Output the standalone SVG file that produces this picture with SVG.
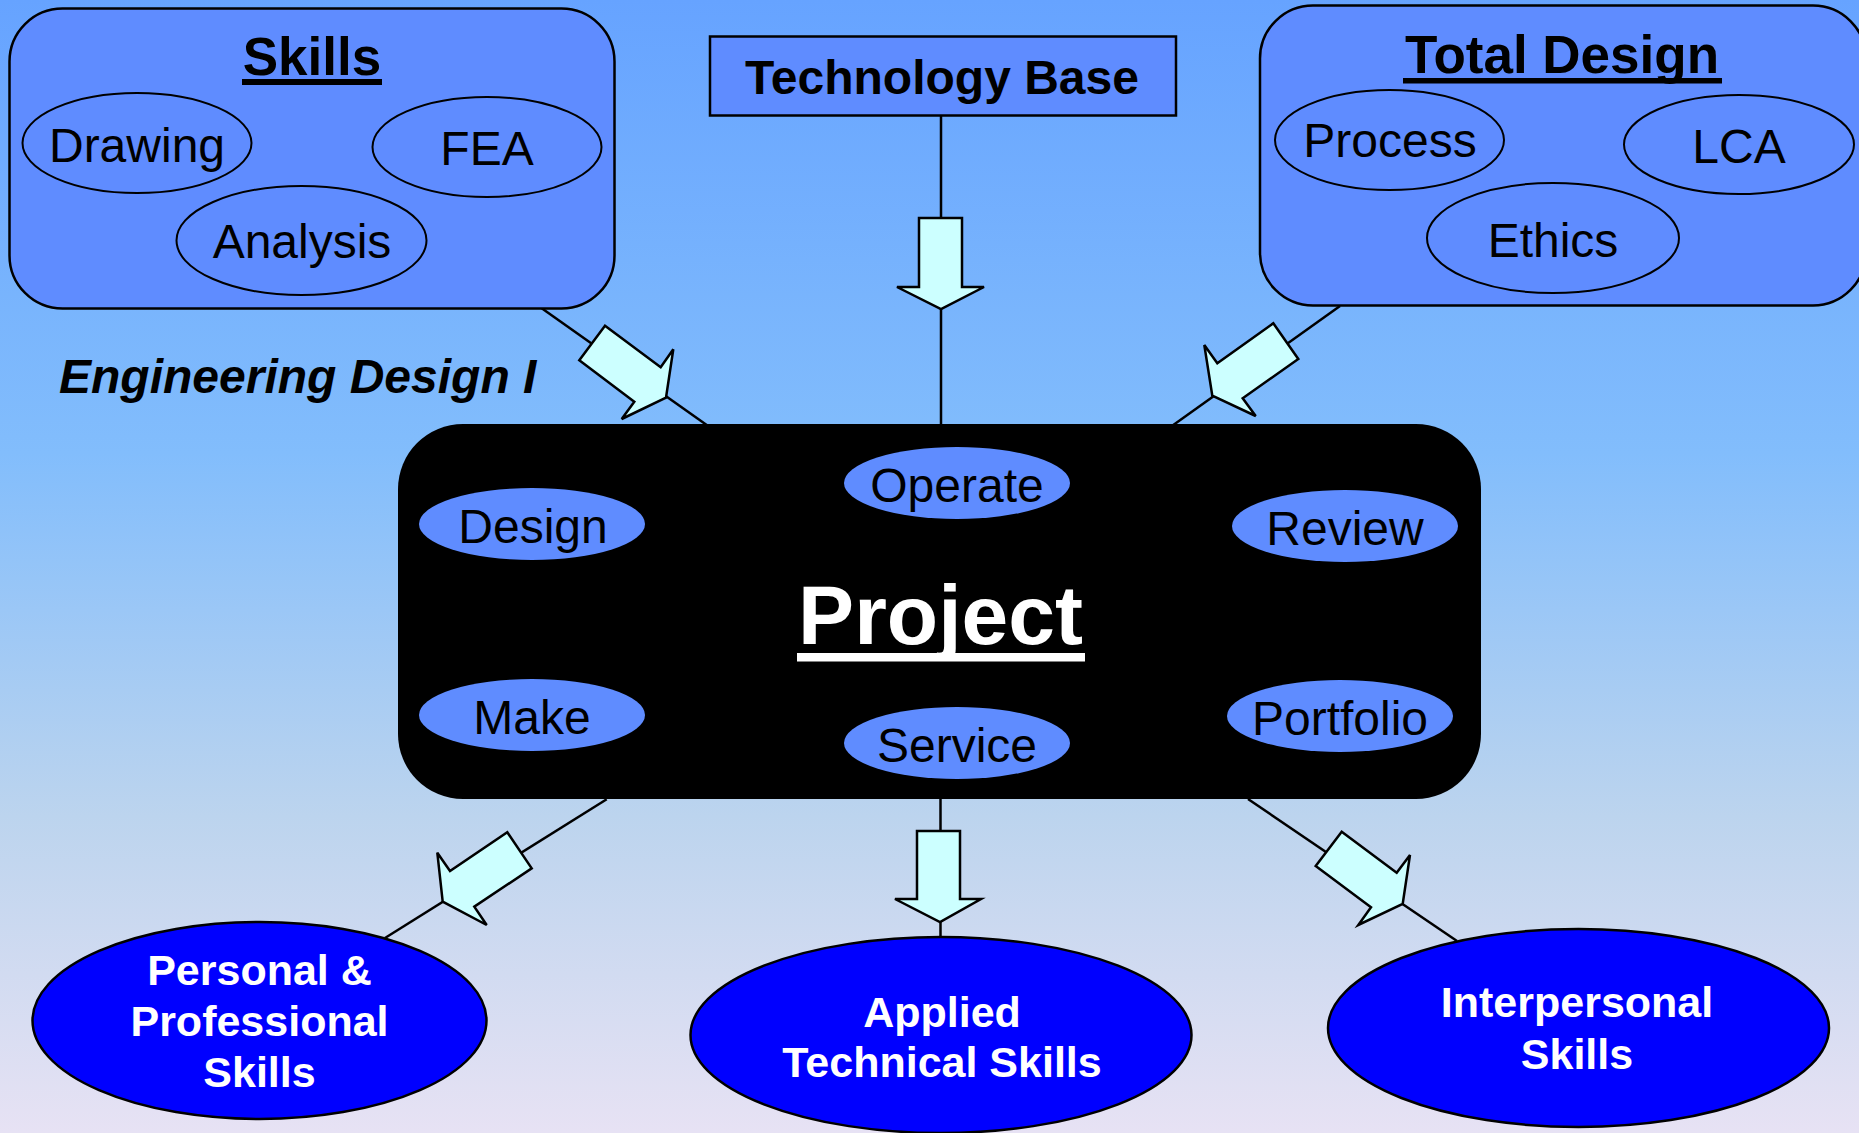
<svg xmlns="http://www.w3.org/2000/svg" width="1859" height="1133" viewBox="0 0 1859 1133">
<defs>
<linearGradient id="bg" x1="0" y1="0" x2="0" y2="1">
<stop offset="0" stop-color="#66A3FF"/>
<stop offset="0.4" stop-color="#82BDFC"/>
<stop offset="0.72" stop-color="#BCD4EE"/>
<stop offset="1" stop-color="#E7E2F4"/>
</linearGradient>
<style>
.box{fill:#5F8CFF;stroke:#000;stroke-width:2.5}
.sub{fill:#5F8CFF;stroke:#000;stroke-width:2}
.inner{fill:#5F8CFF;stroke:none}
.big{fill:#0000FF;stroke:#000;stroke-width:2.5}
.arrow{fill:#CCFFFF;stroke:#000;stroke-width:2.5;stroke-linejoin:miter}
.line{stroke:#000;stroke-width:2.5;fill:none}
text{font-family:"Liberation Sans",Arial,sans-serif;text-anchor:middle}
.title{font-size:53px;font-weight:bold;fill:#000}
.item{font-size:48px;fill:#000}
.wt{font-size:43px;font-weight:bold;fill:#fff}
</style>
</defs>
<rect x="0" y="0" width="1859" height="1133" fill="url(#bg)"/>

<g id="connectors">
<line class="line" x1="541.7" y1="308.3" x2="706.7" y2="425"/>
<line class="line" x1="941" y1="116" x2="941" y2="424"/>
<line class="line" x1="1340" y1="306" x2="1173.3" y2="425"/>
<line class="line" x1="606.7" y1="799.3" x2="385" y2="938"/>
<line class="line" x1="940.5" y1="799" x2="940.5" y2="937"/>
<line class="line" x1="1248" y1="799" x2="1457" y2="941"/>
<polygon class="arrow" points="605,325.7 579.3,360.3 634.3,401.7 621.7,419 666,397.7 673.3,349.3 660.7,367.3"/>
<polygon class="arrow" points="919,218 962,218 962,287 984,287 941,309 897,287 919,287"/>
<polygon class="arrow" points="1273.3,323.3 1298.3,359 1242.7,398.3 1255.7,416 1212.3,395.7 1204.3,345 1217.3,363.3"/>
<polygon class="arrow" points="507.3,832.3 531.7,868.3 474.3,906.7 486.7,925 442.7,901.7 437.3,852.7 450,871"/>
<polygon class="arrow" points="917,831 960,831 960,899 981,899 940,922 895,899 917,899"/>
<polygon class="arrow" points="1341.7,831.7 1315.7,866 1371,907.3 1358.3,925 1402.7,904 1410,855 1396.7,872.7"/>
</g>

<g id="skills">
<rect class="box" x="9.5" y="8.5" width="605" height="300" rx="53" ry="53"/>
<text class="title" x="312" y="75">Skills</text>
<rect x="242" y="79" width="140" height="6" fill="#000"/>
<g id="drawing"><ellipse class="sub" cx="137" cy="143" rx="114.5" ry="50"/><text class="item" x="137" y="162">Drawing</text></g>
<g id="fea"><ellipse class="sub" cx="487" cy="147" rx="114.5" ry="50"/><text class="item" x="487" y="165">FEA</text></g>
<g id="analysis"><ellipse class="sub" cx="301.5" cy="240.5" rx="125" ry="54.5"/><text class="item" x="302" y="258">Analysis</text></g>
</g>

<g id="engineering-design">
<text x="59" y="393" style="font-size:48px;font-weight:bold;font-style:italic;text-anchor:start;fill:#000">Engineering Design I</text>
</g>

<g id="technology-base">
<rect class="box" x="710" y="36.5" width="466" height="79"/>
<text x="942" y="94" style="font-size:48px;font-weight:bold;fill:#000">Technology Base</text>
</g>

<g id="total-design">
<rect class="box" x="1260" y="5.5" width="606" height="300" rx="53" ry="53"/>
<text class="title" x="1562" y="73">Total Design</text>
<rect x="1403" y="78" width="319" height="5.5" fill="#000"/>
<g id="process"><ellipse class="sub" cx="1389.5" cy="140" rx="114.5" ry="50"/><text class="item" x="1390" y="157">Process</text></g>
<g id="lca"><ellipse class="sub" cx="1739" cy="144.5" rx="115" ry="49.5"/><text class="item" x="1739" y="163">LCA</text></g>
<g id="ethics"><ellipse class="sub" cx="1553" cy="238" rx="126" ry="55"/><text class="item" x="1553" y="257">Ethics</text></g>
</g>

<g id="project">
<rect x="398" y="424" width="1083" height="375" rx="65" ry="65" fill="#000"/>
<text x="940.5" y="644" style="font-size:84px;font-weight:bold;fill:#fff">Project</text>
<rect x="797" y="653" width="288" height="8.5" fill="#fff"/>
<g id="operate"><ellipse class="inner" cx="957" cy="483" rx="113" ry="36"/><text class="item" x="957" y="502">Operate</text></g>
<g id="design"><ellipse class="inner" cx="532" cy="524" rx="113" ry="36"/><text class="item" x="533" y="543">Design</text></g>
<g id="review"><ellipse class="inner" cx="1345" cy="526" rx="113" ry="36"/><text class="item" x="1345" y="545">Review</text></g>
<g id="make"><ellipse class="inner" cx="532" cy="715" rx="113" ry="36"/><text class="item" x="532" y="734">Make</text></g>
<g id="service"><ellipse class="inner" cx="957" cy="743" rx="113" ry="36"/><text class="item" x="957" y="762">Service</text></g>
<g id="portfolio"><ellipse class="inner" cx="1340" cy="716" rx="113" ry="36"/><text class="item" x="1340" y="735">Portfolio</text></g>
</g>

<g id="personal-professional">
<ellipse class="big" cx="259.5" cy="1020.5" rx="227" ry="98.5"/>
<text class="wt" x="259.5" y="985">Personal &amp;</text>
<text class="wt" x="259.5" y="1036">Professional</text>
<text class="wt" x="259.5" y="1087">Skills</text>
</g>

<g id="applied-technical">
<ellipse class="big" cx="941" cy="1035" rx="250.5" ry="98"/>
<text class="wt" x="942" y="1027">Applied</text>
<text class="wt" x="942" y="1077">Technical Skills</text>
</g>

<g id="interpersonal">
<ellipse class="big" cx="1578.5" cy="1028" rx="250.5" ry="99"/>
<text class="wt" x="1577" y="1017">Interpersonal</text>
<text class="wt" x="1577" y="1069">Skills</text>
</g>
</svg>
